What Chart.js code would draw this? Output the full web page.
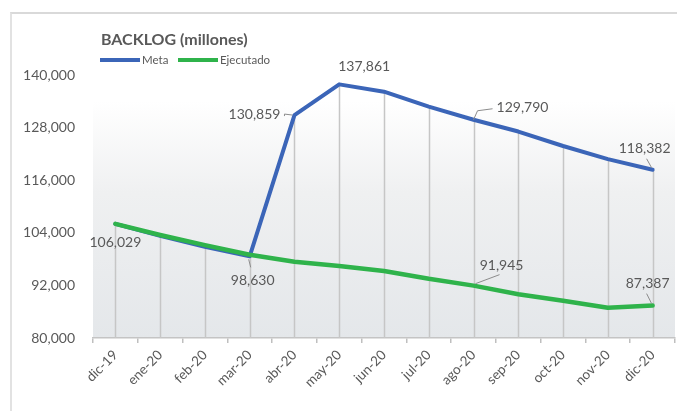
<!DOCTYPE html>
<html>
<head>
<meta charset="utf-8">
<script src="https://cdn.jsdelivr.net/npm/chart.js@4"></script>
<style>
  html, body { margin: 0; padding: 0; background: #fff; }
  #wrap { position: relative; width: 677px; height: 411px; }
  #frame { position: absolute; left: 10px; top: 12px; right: 0; bottom: 0; border-top: 2px solid #d9d9d9; border-left: 2px solid #e2e2e2; }
  #chart { position: absolute; left: 0; top: 0; }
</style>
</head>
<body>
<div id="wrap">
  <div id="frame"></div>
  <canvas id="chart" width="677" height="411"></canvas>
</div>
<script>
// BACKLOG (millones)
const MONTHS = ['dic-19','ene-20','feb-20','mar-20','abr-20','may-20','jun-20','jul-20','ago-20','sep-20','oct-20','nov-20','dic-20'];
const META      = [106029, 103300, 100800,  98630, 130859, 137861, 136200, 132800, 129790, 127100, 123800, 120800, 118382];
const EJECUTADO = [106029, 103500, 101200,  99000,  97400,  96400,  95300,  93500,  91945,  90000,  88500,  86900,  87387];
const Y_TICKS   = [80000, 92000, 104000, 116000, 128000, 140000];

const BLUE = '#3b65b8';
const GREEN = '#2fb34b';
const TXT = '#595959';
const FONT = 'Lato, "Open Sans", sans-serif';

// which points carry a value label, and where it sits relative to the point
const LABELS = [
  { ds: 1, i: 0,  dx: 0,   dy: 19,  align: 'center' },
  { ds: 0, i: 3,  dx: 3,   dy: 24,  align: 'center', lead: [[-1, 3], [1, 11]] },
  { ds: 0, i: 4,  dx: -14, dy: -1,  align: 'right',  lead: [[-2, 0], [-10, -1], [-10, 1]] },
  { ds: 0, i: 5,  dx: -1,  dy: -18, align: 'left' },
  { ds: 0, i: 8,  dx: 23,  dy: -12, align: 'left',   lead: [[0, 0], [4, -9], [19, -11]] },
  { ds: 0, i: 12, dx: -8,  dy: -21, align: 'center', lead: [[-1, -2], [-6, -11]] },
  { ds: 1, i: 8,  dx: 28,  dy: -20, align: 'center', lead: [[2, -2], [26, -11]] },
  { ds: 1, i: 12, dx: -5,  dy: -22, align: 'center', lead: [[-1, -2], [-6, -12]] },
];

const fmt = v => v.toLocaleString('en-US');

const backdrop = {
  id: 'backdrop',
  beforeDraw(chart) {
    const { ctx, chartArea: a } = chart;
    const g = ctx.createLinearGradient(0, a.top, 0, a.bottom);
    g.addColorStop(0, '#ffffff');
    g.addColorStop(0.1, '#ffffff');
    g.addColorStop(0.45, '#eff0f1');
    g.addColorStop(1, '#e4e7ea');
    ctx.save();
    ctx.fillStyle = g;
    ctx.fillRect(a.left, a.top, a.right - a.left, a.bottom - a.top);
    ctx.restore();
  },
  // drop lines from the highest point down to the axis
  beforeDatasetsDraw(chart) {
    const { ctx, scales: { x, y } } = chart;
    ctx.save();
    ctx.strokeStyle = '#c6c6c6';
    ctx.lineWidth = 1.5;
    MONTHS.forEach((m, i) => {
      const top = Math.max(META[i], EJECUTADO[i]);
      const px = Math.round(x.getPixelForValue(i)) + 0.5;
      ctx.beginPath();
      ctx.moveTo(px, y.getPixelForValue(top));
      ctx.lineTo(px, y.getPixelForValue(80000));
      ctx.stroke();
    });
    ctx.restore();
  },
  afterDatasetsDraw(chart) {
    const { ctx } = chart;
    ctx.save();
    ctx.font = '14px ' + FONT;
    ctx.textBaseline = 'middle';
    LABELS.forEach(l => {
      const pt = chart.getDatasetMeta(l.ds).data[l.i];
      const v = chart.data.datasets[l.ds].data[l.i];
      if (l.lead) {
        ctx.strokeStyle = '#8c8c8c';
        ctx.lineWidth = 1;
        ctx.beginPath();
        l.lead.forEach(([ox, oy], k) => k ? ctx.lineTo(pt.x + ox, pt.y + oy) : ctx.moveTo(pt.x + ox, pt.y + oy));
        ctx.stroke();
      }
      ctx.fillStyle = TXT;
      ctx.textAlign = l.align;
      ctx.fillText(fmt(v), pt.x + l.dx, pt.y + l.dy);
    });

    // title + legend
    ctx.textAlign = 'left';
    ctx.font = 'bold 16px ' + FONT;
    ctx.fillText('BACKLOG (millones)', 101, 40);
    ctx.font = '11.5px ' + FONT;
    ctx.lineWidth = 4;
    chart.data.datasets.forEach((d, k) => {
      const x0 = k ? 178 : 100;
      ctx.strokeStyle = d.borderColor;
      ctx.beginPath();
      ctx.moveTo(x0, 60);
      ctx.lineTo(x0 + 40, 60);
      ctx.stroke();
      ctx.fillStyle = TXT;
      ctx.fillText(d.label, x0 + 42, 60);
    });
    ctx.restore();
  }
};

new Chart(document.getElementById('chart'), {
  type: 'line',
  data: {
    labels: MONTHS,
    datasets: [
      { label: 'Meta', data: META, borderColor: BLUE, borderWidth: 4, order: 1 },
      { label: 'Ejecutado', data: EJECUTADO, borderColor: GREEN, borderWidth: 4.5, order: 0 },
    ],
  },
  options: {
    responsive: false,
    animation: false,
    devicePixelRatio: 1,
    layout: { padding: { top: 75, right: 2, left: 0, bottom: 0 } },
    elements: {
      point: { radius: 0 },
      line: { tension: 0, borderCapStyle: 'round', borderJoinStyle: 'round' },
    },
    plugins: { legend: { display: false }, title: { display: false }, tooltip: { enabled: false } },
    scales: {
      x: {
        offset: true,
        grid: { offset: true, drawOnChartArea: false, drawTicks: true, tickLength: 5, color: '#bfbfbf', lineWidth: 1.5 },
        border: { color: '#c4c4c4', width: 1.5 },
        ticks: { color: TXT, font: { family: FONT, size: 13.5 }, minRotation: 45, maxRotation: 45, padding: 4 },
        afterFit: s => { s.height = 73; },
      },
      y: {
        min: 80000,
        max: 140000,
        afterBuildTicks: s => { s.ticks = Y_TICKS.map(v => ({ value: v })); },
        grid: { display: false, drawTicks: false },
        border: { display: false },
        ticks: { color: TXT, font: { family: FONT, size: 14 }, padding: 18, callback: v => fmt(v) },
        afterFit: s => { s.width = 93; },
      },
    },
  },
  plugins: [backdrop],
});
</script>
</body>
</html>
